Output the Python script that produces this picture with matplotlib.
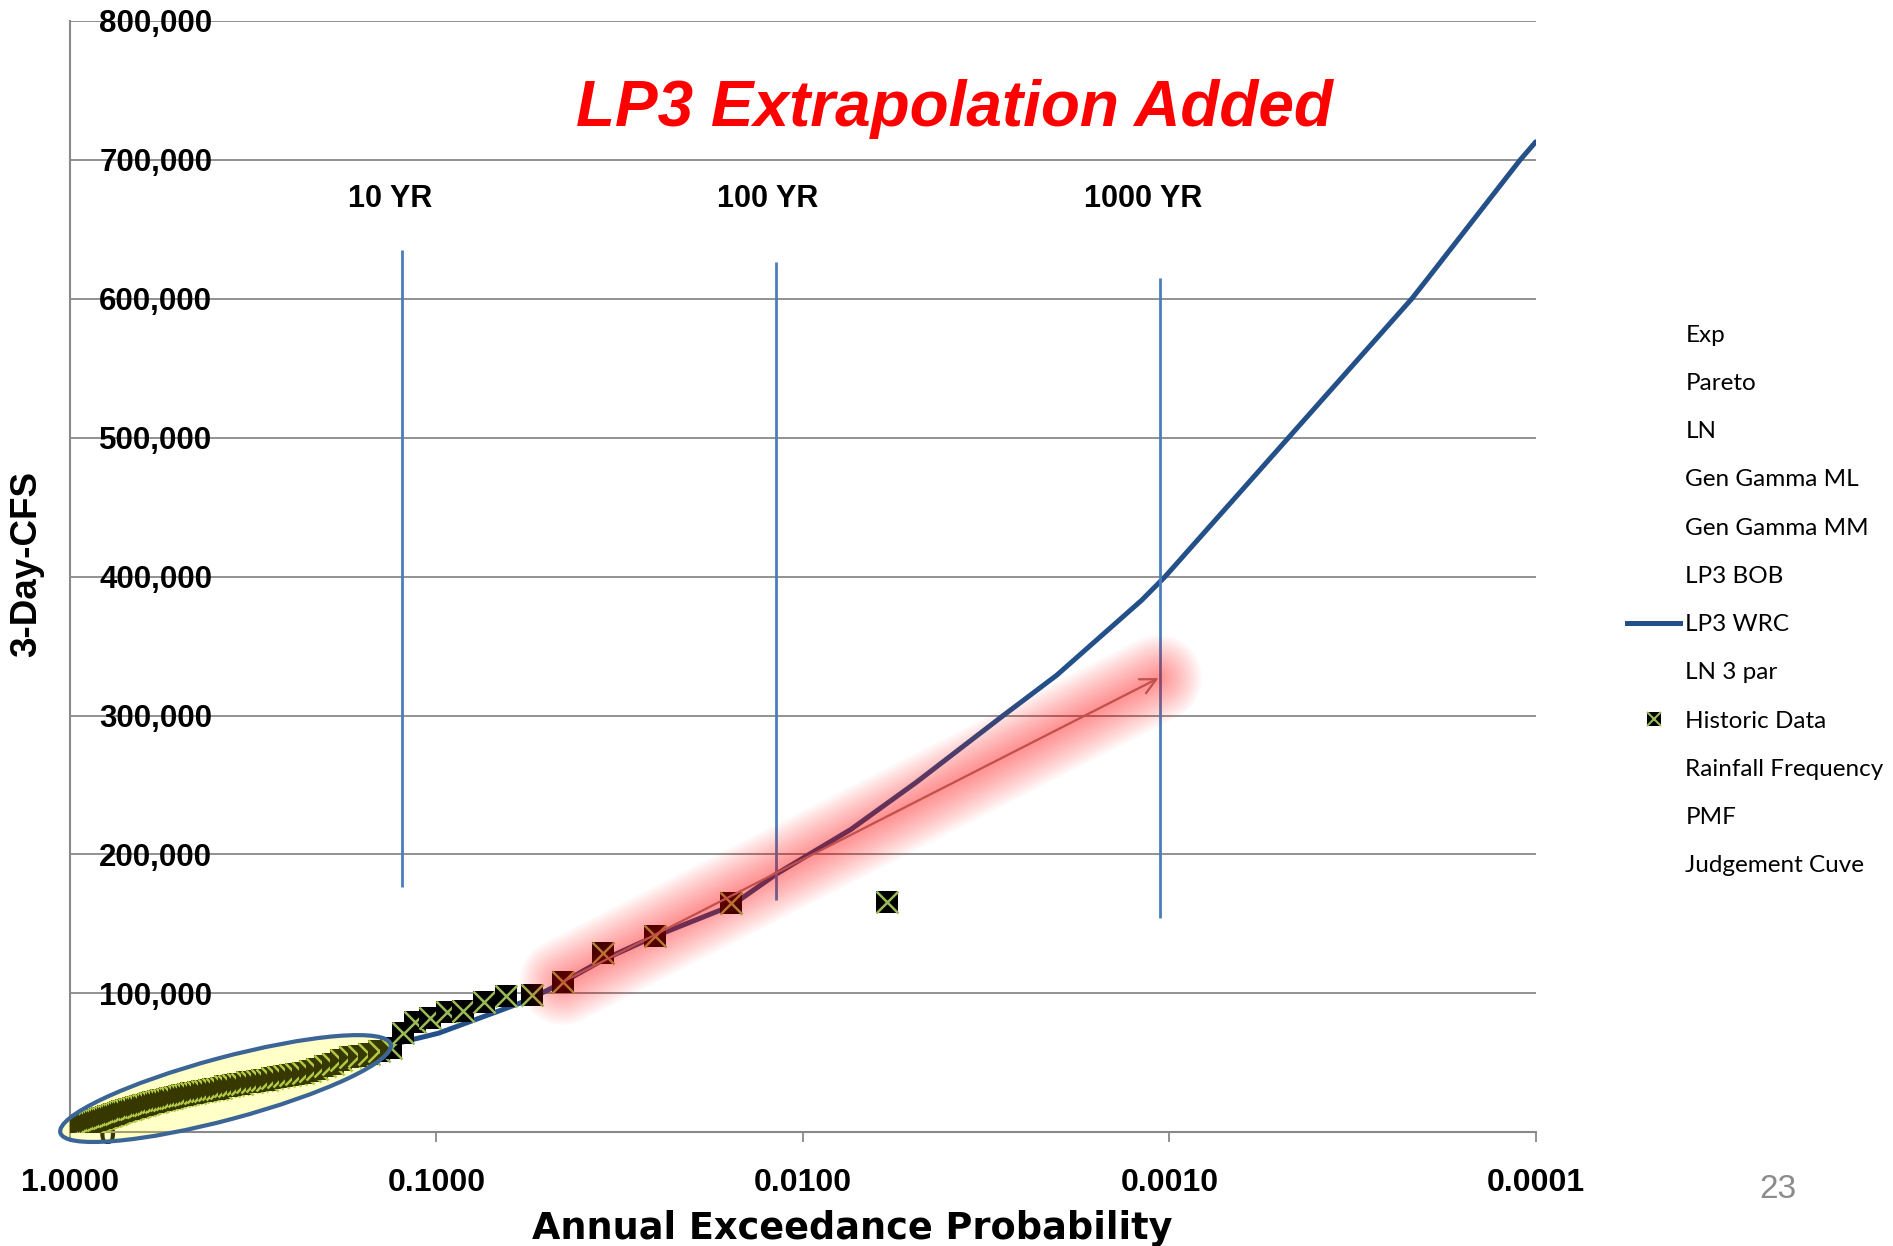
import matplotlib
matplotlib.use('Agg')
import matplotlib.pyplot as plt
import matplotlib.transforms as mtransforms
from matplotlib.lines import Line2D
from matplotlib.patches import Ellipse
from matplotlib.ticker import NullLocator
import numpy as np

plt.rcParams['font.family'] = 'Liberation Sans'

# LP3 WRC curve
lp3_aep = [0.99, 0.9, 0.8, 0.6, 0.5, 0.4, 0.3, 0.2, 0.15, 0.1338, 0.0988, 0.0591,
           0.05, 0.0452, 0.0352, 0.0254, 0.0157, 0.0118, 0.0074, 0.0049, 0.00284,
           0.00203, 0.00119, 0.001027, 0.000473, 0.000218, 0.000198, 0.0001103, 0.0001]
lp3_cfs = [2500, 7500, 11500, 20000, 25000, 31000, 37500, 48000, 56000, 62800, 71300, 93000,
           102000, 108000, 124000, 141000, 163000, 186000, 218000, 252000, 300000,
           329000, 383000, 400000, 500000, 600000, 614000, 700000, 713000]

# historic data (plotting position, 3-day flow)
hist_aep = [0.0059, 0.0157, 0.0254, 0.0352, 0.0452, 0.0550, 0.0646, 0.0741, 0.0844, 0.0937,
            0.1041, 0.1144, 0.1236, 0.1333, 0.1431, 0.1529, 0.1627, 0.1725, 0.1823, 0.1921,
            0.2019, 0.2117, 0.2215, 0.2313, 0.2411, 0.2509, 0.2607, 0.2705, 0.2803, 0.2901,
            0.2999, 0.3097, 0.3195, 0.3293, 0.3391, 0.3489, 0.3587, 0.3685, 0.3783, 0.3881,
            0.3979, 0.4077, 0.4175, 0.4273, 0.4371, 0.4469, 0.4567, 0.4665, 0.4763, 0.4861,
            0.4959, 0.5057, 0.5155, 0.5253, 0.5351, 0.5449, 0.5547, 0.5645, 0.5743, 0.5841,
            0.5939, 0.6037, 0.6135, 0.6233, 0.6331, 0.6429, 0.6527, 0.6625, 0.6723, 0.6821,
            0.6919, 0.7017, 0.7115, 0.7213, 0.7311, 0.7409, 0.7507, 0.7605, 0.7703, 0.7801,
            0.7899, 0.7997, 0.8095, 0.8193, 0.8291, 0.8389, 0.8487, 0.8585, 0.8683, 0.8781,
            0.8879, 0.8977, 0.9075, 0.9173, 0.9271, 0.9369, 0.9467, 0.9565, 0.9663, 0.9761]
hist_cfs = [166000, 165300, 141300, 128900, 108400, 98800, 98200, 94000, 87500, 86800,
            82100, 79600, 71700, 60500, 58500, 56500, 55000, 54000, 52000, 49500,
            47500, 45500, 44000, 43000, 42000, 41500, 40500, 39500, 39000, 38000,
            37500, 37000, 36500, 36000, 35000, 34500, 34000, 33500, 33000, 32000,
            31500, 31000, 30500, 30000, 29500, 29000, 28500, 28000, 27500, 27000,
            26500, 26000, 25500, 25000, 24500, 24000, 23500, 23000, 22500, 22000,
            21500, 21000, 20500, 20000, 19500, 19000, 18500, 18000, 17500, 17000,
            16500, 16000, 15500, 15000, 14500, 14000, 13500, 13000, 12500, 12000,
            11500, 11000, 10500, 10000, 9500, 9000, 8500, 8000, 7500, 7000,
            6800, 6400, 6000, 5600, 5200, 4800, 4400, 4000, 3600, 3200]

# return period markers
ret_labels = ['10 YR', '100 YR', '1000 YR']
ret_aep = [0.1241, 0.01183, 0.001057]
ret_label_aep = [0.1338, 0.01245, 0.001179]
ret_top = [635000, 626600, 614800]
ret_bottom = [176300, 167200, 154600]
ret_label_cfs = 672000

x_ticks = [1, 0.1, 0.01, 0.001, 0.0001]
x_ticklabels = ['1.0000', '0.1000', '0.0100', '0.0010', '0.0001']
y_ticks = list(range(0, 800001, 100000))
y_ticklabels = ['0'] + [f'{v:,}' for v in y_ticks[1:]]

legend_labels = ['Exp', 'Pareto', 'LN', 'Gen Gamma ML', 'Gen Gamma MM', 'LP3 BOB',
                 'LP3 WRC', 'LN 3 par', 'Historic Data', 'Rainfall Frequency', 'PMF',
                 'Judgement Cuve']

arrow_from = (0.0452, 108400)
arrow_to = (0.00107, 327000)
ellipse_center = (0.3763, 31500)

curve_color = '#24508a'
green = '#9bbb59'
grid_gray = '#898989'

fig = plt.figure(figsize=(18.93, 12.46), dpi=100)
ax = fig.add_axes([0.03698, 0.09125, 0.7743, 0.8919])

ax.plot(lp3_aep, lp3_cfs, color=curve_color, lw=3.6, zorder=2, solid_capstyle='round')

# each point drawn as box + cross, smallest flows first so larger ones sit on top
n = len(hist_aep)
for k, (p, q) in enumerate(reversed(list(zip(hist_aep, hist_cfs)))):
    z = 3 + k / (2.0 * n)
    ax.plot([p], [q], ls='none', marker='s', ms=16, mfc='black', mec='black', mew=0, zorder=z)
    ax.plot([p], [q], ls='none', marker='x', ms=16, mec=green, mew=1.8, zorder=z + 0.0001)

ax.vlines(ret_aep, ret_bottom, ret_top, color='#4a7ebb', lw=2, zorder=4)
for lbl, p in zip(ret_labels, ret_label_aep):
    ax.text(p, ret_label_cfs, lbl, ha='center', va='center', fontsize=22, fontweight='bold')

# highlight ellipse around the low-flow data (size in inches, centred on a data point)
trans = fig.dpi_scale_trans + mtransforms.ScaledTranslation(*ellipse_center, ax.transData)
ax.add_patch(Ellipse((0, 0), 3.42, 0.62, angle=15, transform=trans, clip_on=False,
                     facecolor=(1, 1, 0, 0.22), edgecolor='#3b6596', lw=3, zorder=5))

# soft red glow behind the extrapolation arrow
gx = [arrow_from[0], arrow_to[0]]
gy = [arrow_from[1], arrow_to[1]]
for w in np.linspace(4, 62, 16):
    ax.plot(gx, gy, color='red', lw=w, alpha=0.032, solid_capstyle='round', zorder=6)
ax.annotate('', xy=arrow_to, xytext=arrow_from,
            arrowprops=dict(arrowstyle='->', color='#c0504d', lw=1.6, mutation_scale=28,
                            shrinkA=0, shrinkB=0), zorder=7)

ax.set_xscale('log')
ax.set_xticks(x_ticks)
ax.set_xticklabels(x_ticklabels)
ax.xaxis.set_minor_locator(NullLocator())
ax.set_yticks(y_ticks)
ax.set_yticklabels(y_ticklabels)
ax.set_xlim(1, 1e-4)
ax.set_ylim(0, 800000)

ax.grid(axis='y', color=grid_gray, lw=1.3)
ax.set_axisbelow(True)
for s in ['top', 'right']:
    ax.spines[s].set_visible(False)
for s in ['left', 'bottom']:
    ax.spines[s].set_color(grid_gray)
    ax.spines[s].set_linewidth(1.5)

ax.tick_params(axis='y', length=0, pad=-21, labelsize=22.5)
for t in ax.get_yticklabels():
    t.set_horizontalalignment('left')
    t.set_fontweight('bold')
ax.tick_params(axis='x', length=7, width=1.3, color=grid_gray, direction='out', pad=18.5, labelsize=23)
for t in ax.get_xticklabels():
    t.set_fontweight('bold')

fig.text(0.5042, 0.899, 'LP3 Extrapolation Added', color='#ff0000', fontsize=46,
         fontweight='bold', fontstyle='italic', ha='center', va='baseline')
fig.text(0.01405, 0.5474, '3-Day-CFS', rotation=90, ha='center', va='center',
         fontsize=26.5, fontweight='bold')
fig.text(0.4503, 0.0056, 'Annual Exceedance Probability', fontsize=26.4, fontweight='bold',
         family='DejaVu Sans', ha='center', va='baseline')
fig.text(0.9393, 0.0457, '23', color='#8c8c8c', fontsize=24, ha='center', va='center')

handles = []
for lbl in legend_labels:
    if lbl == 'LP3 WRC':
        handles.append(Line2D([], [], color=curve_color, lw=3.6))
    elif lbl == 'Historic Data':
        handles.append((Line2D([], [], ls='none', marker='s', ms=10, mfc='black', mec='black', mew=0),
                        Line2D([], [], ls='none', marker='x', ms=10, mec=green, mew=1.5)))
    else:
        handles.append(Line2D([], [], ls='none'))
fig.legend(handles, legend_labels, loc='upper left', bbox_to_anchor=(0.8597, 0.7394),
           frameon=False, prop={'family': 'Lato', 'size': 17.5}, handlelength=2.18,
           handletextpad=0.2, labelspacing=1.12, borderpad=0, borderaxespad=0)

fig.savefig('out.png', dpi=100)
